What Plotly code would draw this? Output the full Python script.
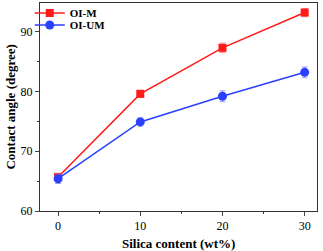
import plotly.graph_objects as go

silica = [0, 10, 20, 30]
oi_m = [65.7, 79.6, 87.3, 93.2]
oi_m_err = [0.6, 0.6, 0.8, 0.7]
oi_um = [65.4, 74.9, 79.2, 83.2]
oi_um_err = [0.8, 0.7, 0.9, 0.9]

fig = go.Figure()
fig.add_trace(go.Scatter(
    x=silica, y=oi_m, name="<b>OI-M</b>", mode="lines+markers",
    line=dict(color="#ff1a1a", width=1.5),
    marker=dict(symbol="square", size=8, color="#ff1a1a"),
    error_y=dict(type="data", array=oi_m_err, color="rgba(240,120,140,0.8)", thickness=1, width=3),
    legend="legend",
))
fig.add_trace(go.Scatter(
    x=silica, y=oi_um, name="<b>OI-UM</b>", mode="lines+markers",
    line=dict(color="#2a40ff", width=1.5),
    marker=dict(symbol="circle", size=9, color="#2a40ff"),
    error_y=dict(type="data", array=oi_um_err, color="rgba(140,140,230,0.8)", thickness=1, width=3),
    legend="legend2",
))

tf = dict(family="Liberation Serif", size=12, color="black")
lf = dict(family="Liberation Serif", size=11, color="black")
leg = dict(x=-0.037, xanchor="left", yanchor="middle", bgcolor="rgba(0,0,0,0)",
           font=lf, itemwidth=30, tracegroupgap=0)
fig.update_layout(
    width=323, height=251,
    margin=dict(l=40, r=6, t=3, b=40, autoexpand=False),
    paper_bgcolor="white", plot_bgcolor="white",
    font=tf,
    showlegend=True,
    legend=dict(leg, y=0.952),
    legend2=dict(leg, y=0.894),
    xaxis=dict(range=[-2.2, 31.5], tickvals=[0, 10, 20, 30], ticks="outside", ticklen=4,
               showgrid=False, zeroline=False, showline=True, linecolor="#333", linewidth=1, mirror=True,
               minor=dict(tickvals=[5, 15, 25], ticks="outside", ticklen=2, tickcolor="#333"),
               tickfont=tf, automargin=False, tickprefix="<b>", ticksuffix="</b>"),
    yaxis=dict(range=[60, 94.8], tickvals=[60, 70, 80, 90], ticks="outside", ticklen=4,
               showgrid=False, zeroline=False, showline=True, linecolor="#333", linewidth=1, mirror=True,
               minor=dict(tickvals=[65, 75, 85], ticks="outside", ticklen=2, tickcolor="#333"),
               tickfont=tf, automargin=False, tickprefix="<b>", ticksuffix="</b>"),
    annotations=[
        dict(text="<b>Silica content (wt%)</b>", xref="paper", yref="paper", x=0.5, y=-0.155,
             xanchor="center", yanchor="middle", showarrow=False,
             font=dict(family="Liberation Serif", size=13, color="black")),
        dict(text="<b>Contact angle (degree)</b>", xref="paper", yref="paper", x=-0.11, y=0.5,
             xanchor="center", yanchor="middle", showarrow=False, textangle=-90,
             font=dict(family="Liberation Serif", size=13, color="black")),
    ],
)
fig.write_html("out.html", config={"displayModeBar": False},
               post_script="document.body.style.margin='0';document.body.style.padding='0';document.body.style.overflow='hidden';")
